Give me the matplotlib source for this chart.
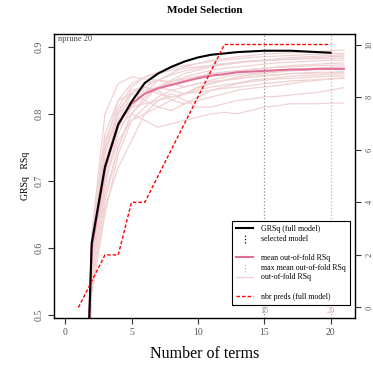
import matplotlib
matplotlib.use('Agg')
import matplotlib.pyplot as plt
from matplotlib.lines import Line2D
from matplotlib.legend_handler import HandlerBase

plt.rcParams['font.family'] = ['Liberation Serif', 'DejaVu Serif']

# number of terms for each curve
nterms = list(range(1, 22))
nterms_full = list(range(1, 21))

# GRSq of the full model, terms 1..20
grsq = [0.0, 0.607, 0.721, 0.784, 0.818, 0.846, 0.860, 0.870, 0.878, 0.884,
        0.888, 0.890, 0.892, 0.893, 0.894, 0.894, 0.894, 0.893, 0.892, 0.891]

# number of predictors of the full model, terms 1..20
npreds = [0, 1, 2, 2, 4, 4, 5, 6, 7, 8, 9, 10, 10, 10, 10, 10, 10, 10, 10, 10]

# mean out-of-fold RSq, terms 1..21
mean_oof = [0.0, 0.600, 0.718, 0.785, 0.815, 0.830, 0.838, 0.843, 0.848, 0.853,
            0.857, 0.859, 0.862, 0.863, 0.864, 0.865, 0.866, 0.866, 0.867, 0.867, 0.867]

# out-of-fold RSq for each fold, terms 1..21
fold01 = [0.0, .58, .70, .77, .81, .83, .85, .86, .87, .875, .88, .882, .885, .887, .889, .890, .891, .892, .893, .894, .895]
fold02 = [0.0, .56, .68, .75, .80, .82, .84, .85, .86, .865, .87, .873, .876, .878, .880, .882, .884, .885, .886, .887, .888]
fold03 = [0.0, .62, .80, .845, .855, .852, .85, .848, .852, .856, .86, .862, .864, .866, .868, .870, .872, .873, .874, .875, .876]
fold04 = [0.0, .60, .74, .80, .82, .835, .84, .835, .83, .84, .845, .85, .852, .855, .857, .858, .86, .861, .862, .862, .863]
fold05 = [0.0, .55, .66, .72, .76, .80, .82, .83, .82, .81, .81, .815, .82, .822, .825, .826, .828, .83, .832, .835, .839]
fold06 = [0.0, .57, .71, .79, .83, .84, .835, .82, .815, .82, .825, .83, .835, .838, .84, .842, .845, .848, .85, .852, .854]
fold07 = [0.0, .59, .72, .78, .80, .79, .78, .785, .79, .795, .80, .802, .80, .805, .81, .812, .815, .815, .815, .816, .816]
fold08 = [0.0, .61, .76, .81, .84, .855, .862, .868, .872, .875, .878, .88, .882, .884, .885, .886, .887, .888, .889, .890, .890]
fold09 = [0.0, .58, .73, .79, .815, .83, .84, .845, .85, .855, .86, .862, .864, .866, .868, .869, .87, .871, .872, .872, .873]
fold10 = [0.0, .53, .65, .74, .79, .81, .825, .835, .84, .845, .848, .85, .853, .855, .857, .858, .86, .86, .861, .861, .862]
fold11 = [0.0, .60, .75, .82, .845, .855, .86, .865, .868, .87, .872, .874, .876, .878, .879, .88, .881, .882, .882, .883, .883]
fold12 = [0.0, .57, .70, .76, .79, .80, .81, .82, .83, .838, .845, .85, .855, .858, .86, .862, .864, .865, .866, .866, .867]
fold13 = [0.0, .62, .77, .82, .83, .82, .81, .805, .815, .825, .835, .84, .845, .848, .85, .852, .853, .854, .855, .856, .857]
fold14 = [0.0, .56, .69, .78, .82, .84, .85, .858, .864, .868, .872, .875, .877, .879, .88, .881, .882, .883, .884, .885, .886]
fold15 = [0.0, .59, .72, .80, .835, .84, .83, .825, .83, .835, .84, .843, .846, .85, .852, .854, .856, .857, .858, .859, .86]
fold16 = [0.0, .54, .67, .75, .80, .825, .84, .848, .855, .86, .865, .868, .87, .872, .874, .876, .877, .878, .879, .88, .88]
fold17 = [0.0, .61, .745, .805, .83, .845, .85, .845, .84, .845, .85, .855, .858, .86, .862, .864, .866, .867, .868, .869, .87]
fold18 = [0.0, .58, .71, .785, .81, .815, .82, .825, .83, .832, .835, .838, .84, .842, .845, .847, .849, .85, .851, .852, .853]
folds = [fold01, fold02, fold03, fold04, fold05, fold06, fold07, fold08, fold09,
         fold10, fold11, fold12, fold13, fold14, fold15, fold16, fold17, fold18]

selected = 15
max_mean = 20

fold_col = '#f0d2d2'
mean_col = '#e0709a'
sel_col = '#909090'
max_col = '#f0a0b8'


class VLineHandler(HandlerBase):
    # legend symbol: short vertical dotted line
    def create_artists(self, legend, orig, xdescent, ydescent, width, height, fontsize, trans):
        x = width / 2 - xdescent
        ln = Line2D([x, x], [-ydescent - 0.4 * height, height * 1.2 - ydescent],
                    color=orig.get_color(), linestyle=':', linewidth=0.9)
        ln.set_transform(trans)
        return [ln]


fig = plt.figure(figsize=(3.73, 3.67), dpi=100)
ax = fig.add_axes([0.1448, 0.1335, 0.8069, 0.7739])

for f in folds:
    ax.plot(nterms, f, color=fold_col, lw=0.9, zorder=1)
ax.plot(nterms, mean_oof, color=mean_col, lw=1.5, zorder=3)
ax.plot(nterms_full, grsq, color='black', lw=1.5, zorder=4)
ax.axvline(selected, color=sel_col, ls=':', lw=0.9, zorder=2)
ax.axvline(max_mean, color=max_col, ls=':', lw=0.9, zorder=2)

ax.set_xlim(-0.84, 21.84)
ax.set_ylim(0.4955, 0.919)
ax.set_xticks([0, 5, 10, 15, 20])
ax.set_yticks([0.5, 0.6, 0.7, 0.8, 0.9])
ax.set_yticklabels(['0.5', '0.6', '0.7', '0.8', '0.9'], rotation=90, va='center')
ax.tick_params(labelsize=7, length=4, width=0.8, colors='#333333', labelcolor='#555555')
ax.set_xlabel('Number of terms', fontsize=11.5, labelpad=6)
ax.set_ylabel('GRSq   RSq', fontsize=7)
ax.yaxis.set_label_coords(-0.08, 0.5)
ax.set_title('Model Selection', fontsize=8, fontweight='bold', pad=15)
for s in ax.spines.values():
    s.set_linewidth(1.0)
    s.set_color('#333333')

ax.text(0.012, 0.995, 'nprune 20', transform=ax.transAxes, fontsize=6,
        va='top', ha='left', color='#444444')
ax.text(selected, 0.506, str(selected), fontsize=6, color=sel_col, ha='center', va='center')
ax.text(max_mean, 0.506, str(max_mean), fontsize=6, color=max_col, ha='center', va='center')

ax2 = ax.twinx()
ax2.plot(nterms_full, npreds, color='red', ls=(0, (2.5, 1.5)), lw=1.0, zorder=5)
ax2.set_ylim(-0.4, 10.4)
ax2.set_yticks([0, 2, 4, 6, 8, 10])
ax2.set_yticklabels(['0', '2', '4', '6', '8', '10'], rotation=90, va='center')
ax2.tick_params(labelsize=6, length=4, width=0.8, colors='#333333', labelcolor='#555555')

handles = [
    Line2D([], [], color='black', lw=1.5),
    Line2D([], [], color='black'),
    Line2D([], [], color='none'),
    Line2D([], [], color=mean_col, lw=1.5),
    Line2D([], [], color=max_col),
    Line2D([], [], color=fold_col, lw=1.0),
    Line2D([], [], color='none'),
    Line2D([], [], color='red', ls=(0, (2.5, 1.5)), lw=1.0),
]
labels = ['GRSq (full model)', 'selected model', '', 'mean out-of-fold RSq',
          'max mean out-of-fold RSq', 'out-of-fold RSq', '', 'nbr preds (full model)']
leg = ax2.legend(handles, labels, loc='lower right', bbox_to_anchor=(0.983, 0.046),
                 borderaxespad=0, fontsize=5.7, frameon=True, fancybox=False,
                 framealpha=1, edgecolor='black', handlelength=2.2, handletextpad=1.0,
                 labelspacing=0.22, borderpad=0.5,
                 handler_map={handles[1]: VLineHandler(), handles[4]: VLineHandler()})
leg.get_frame().set_linewidth(0.8)

fig.savefig('out.png', dpi=100)
